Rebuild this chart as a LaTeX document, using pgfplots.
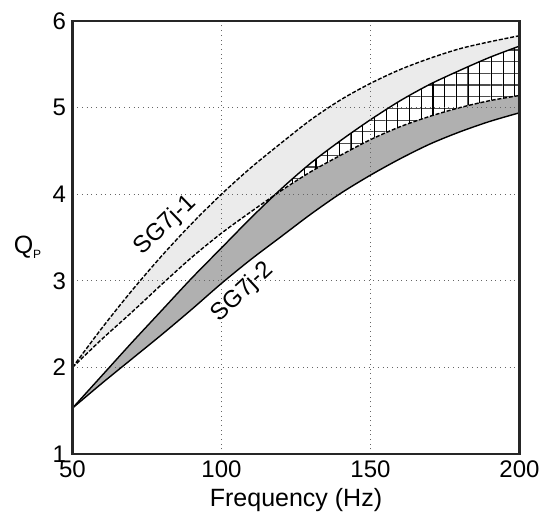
\documentclass[border=0pt]{standalone}
\usepackage{fontspec}
\setmainfont{Liberation Sans}
\usepackage{pgfplots}
\pgfplotsset{compat=1.18}
\usepgfplotslibrary{fillbetween}
\usetikzlibrary{patterns}
\definecolor{lightband}{gray}{0.92}
\definecolor{darkband}{gray}{0.69}
\pgfdeclarepatterninherentlycolored{bighatch}{\pgfpoint{-0.7pt}{-0.7pt}}{\pgfpoint{11.0pt}{11.0pt}}{\pgfpoint{11.7pt}{11.7pt}}{%
  \pgfsetlinewidth{1.2pt}%
  \pgfsetstrokecolor{black!70}%
  \pgfpathmoveto{\pgfpoint{-0.7pt}{0pt}}\pgfpathlineto{\pgfpoint{11.0pt}{0pt}}\pgfusepath{stroke}%
  \pgfsetstrokecolor{black}%
  \pgfpathmoveto{\pgfpoint{0pt}{-0.7pt}}\pgfpathlineto{\pgfpoint{0pt}{11.0pt}}\pgfusepath{stroke}%
}
\begin{document}
\begin{tikzpicture}
\begin{axis}[
  scale only axis, width=447pt, height=433pt,
  xmin=50, xmax=200, ymin=1, ymax=6,
  xtick={50,100,150,200}, ytick={1,2,3,4,5,6},
  major tick length=0pt,
  grid=major,
  grid style={black!60, line width=0.8pt, dash pattern=on 0.8pt off 3.9pt},
  axis line style={line width=2.2pt, black!85},
  axis on top,
  ticklabel style={font=\fontsize{24}{28}\selectfont},
  /pgf/number format/assume math mode=true,
  xticklabel style={yshift=-3pt},
  yticklabel style={xshift=-3pt},
  xlabel={Frequency (Hz)},
  every axis x label/.style={at={(rel axis cs:0.5,0)}, anchor=base, yshift=-53pt, font=\fontsize{25}{30}\selectfont},
  ylabel={Q\raisebox{-5pt}{\fontsize{12}{14}\selectfont P}},
  every axis y label/.style={at={(rel axis cs:-0.1007,0.478)}, anchor=center, font=\fontsize{25}{30}\selectfont},
]
\addplot[name path=A, draw=none, smooth] coordinates {(50,2.00) (60,2.46) (70,2.89) (80,3.29) (90,3.66) (100,4.00) (110,4.31) (120,4.59) (130,4.86) (140,5.09) (150,5.28) (160,5.44) (170,5.57) (180,5.68) (190,5.76) (200,5.83)};
\addplot[name path=B, draw=none, smooth] coordinates {(50,2.00) (60,2.33) (70,2.64) (80,2.96) (90,3.27) (100,3.55) (110,3.80) (120,4.04) (130,4.26) (140,4.45) (150,4.63) (160,4.78) (170,4.90) (180,5.00) (190,5.08) (200,5.14)};
\addplot[name path=C, draw=none, smooth] coordinates {(50,1.53) (60,1.91) (70,2.29) (80,2.66) (90,3.03) (100,3.38) (110,3.73) (120,4.06) (130,4.36) (140,4.62) (150,4.86) (160,5.08) (170,5.27) (180,5.43) (190,5.58) (200,5.71)};
\addplot[name path=D, draw=none, smooth] coordinates {(50,1.53) (60,1.82) (70,2.10) (80,2.38) (90,2.67) (100,2.97) (110,3.25) (120,3.51) (130,3.77) (140,4.01) (150,4.22) (160,4.41) (170,4.58) (180,4.72) (190,4.84) (200,4.94)};
\addplot[fill=lightband, draw=none] fill between[of=A and B];
\addplot[fill=darkband, draw=none] fill between[of=C and D];
\addplot[fill=white, draw=none] fill between[of=C and B, soft clip={domain=117.8:200}];
\addplot[pattern=bighatch, draw=none] fill between[of=C and B, soft clip={domain=117.8:200}];
\addplot[black, line width=1.4pt, smooth, dash pattern=on 4pt off 1.8pt] coordinates {(50,2.00) (60,2.46) (70,2.89) (80,3.29) (90,3.66) (100,4.00) (110,4.31) (120,4.59) (130,4.86) (140,5.09) (150,5.28) (160,5.44) (170,5.57) (180,5.68) (190,5.76) (200,5.83)};
\addplot[black, line width=1.4pt, smooth, dash pattern=on 4pt off 1.8pt] coordinates {(50,2.00) (60,2.33) (70,2.64) (80,2.96) (90,3.27) (100,3.55) (110,3.80) (120,4.04) (130,4.26) (140,4.45) (150,4.63) (160,4.78) (170,4.90) (180,5.00) (190,5.08) (200,5.14)};
\addplot[black, line width=1.4pt, smooth] coordinates {(50,1.53) (60,1.91) (70,2.29) (80,2.66) (90,3.03) (100,3.38) (110,3.73) (120,4.06) (130,4.36) (140,4.62) (150,4.86) (160,5.08) (170,5.27) (180,5.43) (190,5.58) (200,5.71)};
\addplot[black, line width=1.4pt, smooth] coordinates {(50,1.53) (60,1.82) (70,2.10) (80,2.38) (90,2.67) (100,2.97) (110,3.25) (120,3.51) (130,3.77) (140,4.01) (150,4.22) (160,4.41) (170,4.58) (180,4.72) (190,4.84) (200,4.94)};
\node[rotate=44, font=\fontsize{24}{28}\selectfont] at (axis cs:81.2,3.64) {SG7j-1};
\node[rotate=43, font=\fontsize{24}{28}\selectfont] at (axis cs:107.2,2.87) {SG7j-2};
\end{axis}
\pgfresetboundingbox
\path[use as bounding box] (-72.5pt,-64pt) rectangle (477.5pt,454pt);
\end{tikzpicture}
\end{document}
